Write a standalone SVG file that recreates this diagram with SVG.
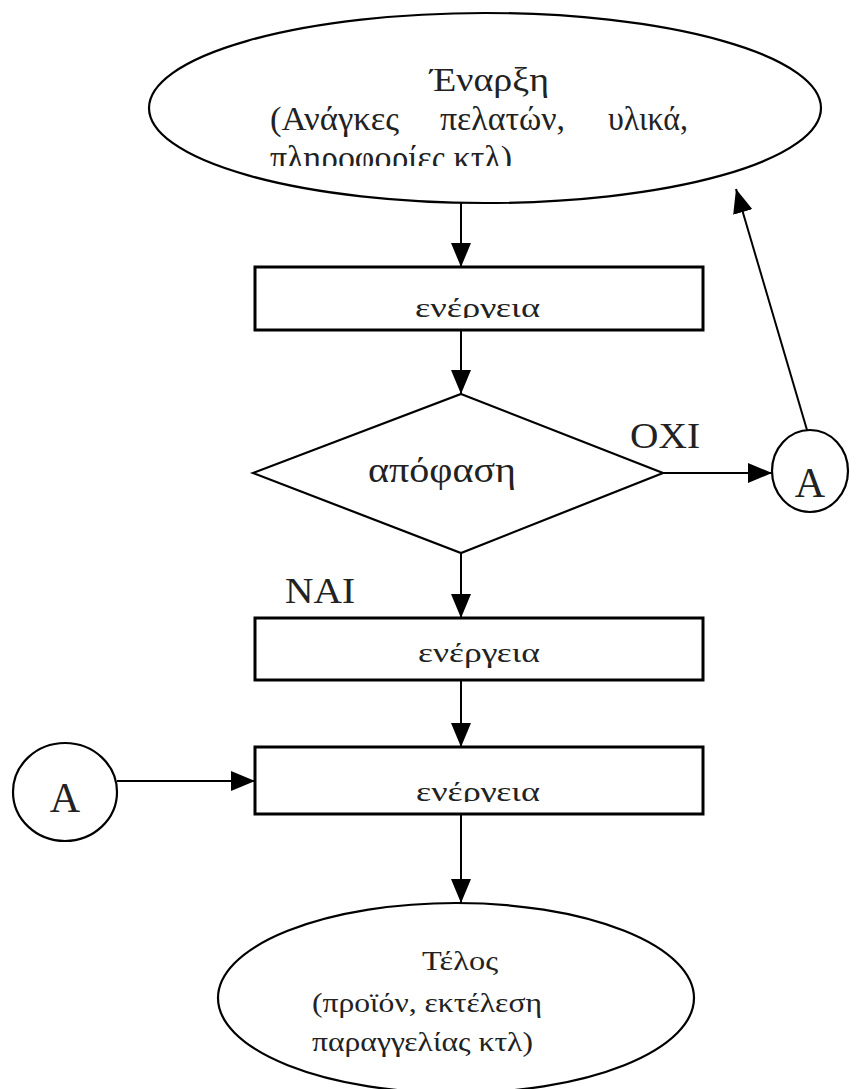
<svg xmlns="http://www.w3.org/2000/svg" width="868" height="1089" viewBox="0 0 868 1089">
<defs>
<marker id="ah" markerUnits="userSpaceOnUse" markerWidth="24" markerHeight="20" refX="24" refY="10" orient="auto">
<path d="M0,0 L24,10 L0,20 z" fill="#000"/>
</marker>
<clipPath id="c1"><rect x="0" y="0" width="868" height="166"/></clipPath>
<clipPath id="c2"><rect x="0" y="0" width="868" height="318"/></clipPath>
<clipPath id="c3"><rect x="0" y="0" width="868" height="802"/></clipPath>
</defs>
<style>
.sh{fill:#fff;stroke:#000;stroke-width:2.2}
.bx{fill:#fff;stroke:#000;stroke-width:3}
.t{font-family:"Liberation Serif","DejaVu Serif",serif;fill:#222}
.c{stroke:#000;stroke-width:2;fill:none;marker-end:url(#ah)}
</style>
<rect width="868" height="1089" fill="#fff"/>
<g id="start">
<ellipse class="sh" cx="485" cy="108" rx="336" ry="95"/>
<text class="t" x="430" y="91" font-size="34" textLength="119" lengthAdjust="spacingAndGlyphs">Έναρξη</text>
<text class="t" y="130" font-size="34"><tspan x="270" textLength="129" lengthAdjust="spacingAndGlyphs">(Ανάγκες</tspan> <tspan x="440" textLength="125" lengthAdjust="spacingAndGlyphs">πελατών,</tspan> <tspan x="608" textLength="80" lengthAdjust="spacingAndGlyphs">υλικά,</tspan></text>
<text class="t" x="270" y="169" font-size="34" textLength="242" lengthAdjust="spacingAndGlyphs" clip-path="url(#c1)">πληροφορίες κτλ)</text>
</g>
<g id="action1">
<rect class="bx" x="255" y="267" width="448" height="63"/>
<text class="t" x="415" y="317" font-size="28" textLength="125" lengthAdjust="spacingAndGlyphs" clip-path="url(#c2)">ενέργεια</text>
</g>
<g id="decision">
<polygon class="sh" points="461,394 663,473 461,553 253,473"/>
<text class="t" x="368" y="482" font-size="36" textLength="148" lengthAdjust="spacingAndGlyphs">απόφαση</text>
</g>
<g id="action2">
<rect class="bx" x="255" y="618" width="448" height="62"/>
<text class="t" x="418" y="662" font-size="28" textLength="122" lengthAdjust="spacingAndGlyphs">ενέργεια</text>
</g>
<g id="action3">
<rect class="bx" x="255" y="747" width="448" height="67"/>
<text class="t" x="416" y="801" font-size="28" textLength="124" lengthAdjust="spacingAndGlyphs" clip-path="url(#c3)">ενέργεια</text>
</g>
<g id="end">
<ellipse class="sh" cx="456" cy="998" rx="238" ry="95"/>
<text class="t" x="422" y="970" font-size="28" textLength="76" lengthAdjust="spacingAndGlyphs">Τέλος</text>
<text class="t" x="312" y="1012" font-size="28" textLength="230" lengthAdjust="spacingAndGlyphs">(προϊόν, εκτέλεση</text>
<text class="t" x="312" y="1051" font-size="28" textLength="221" lengthAdjust="spacingAndGlyphs">παραγγελίας κτλ)</text>
</g>
<g id="connectorA-right">
<ellipse class="sh" cx="810" cy="471" rx="38" ry="41"/>
<text class="t" x="810" y="497" font-size="42" text-anchor="middle">A</text>
</g>
<g id="connectorA-left">
<ellipse class="sh" cx="65" cy="792" rx="52" ry="49"/>
<text class="t" x="65" y="812" font-size="42" text-anchor="middle">A</text>
</g>
<g id="connectors">
<line class="c" x1="461" y1="203" x2="461" y2="267"/>
<line class="c" x1="461" y1="330" x2="461" y2="394"/>
<line class="c" x1="461" y1="553" x2="461" y2="618"/>
<line class="c" x1="461" y1="680" x2="461" y2="747"/>
<line class="c" x1="461" y1="814" x2="461" y2="903"/>
<line class="c" x1="663" y1="473" x2="772" y2="473"/>
<line class="c" x1="807" y1="430" x2="736" y2="189"/>
<line class="c" x1="117" y1="781" x2="255" y2="781"/>
</g>
<g id="labels">
<text class="t" x="630" y="448" font-size="36" textLength="70" lengthAdjust="spacingAndGlyphs">OXI</text>
<text class="t" x="285" y="603" font-size="36" textLength="70" lengthAdjust="spacingAndGlyphs">NAI</text>
</g>
</svg>
